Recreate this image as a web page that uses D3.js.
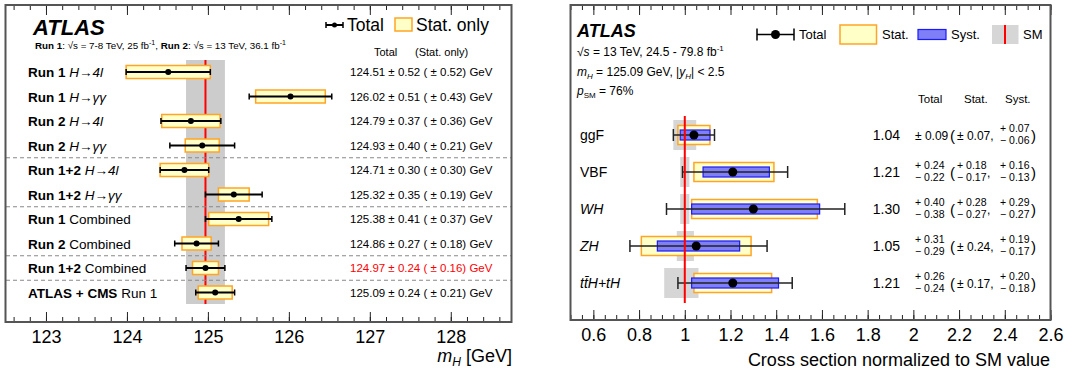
<!DOCTYPE html>
<html>
<head>
<meta charset="utf-8">
<title>Higgs mass and cross sections</title>
<script src="https://cdnjs.cloudflare.com/ajax/libs/d3/7.8.5/d3.min.js"></script>
<style>
  body { margin: 0; background: #fff; }
  svg text { font-family: "Liberation Sans", Arial, Helvetica, sans-serif; fill: #000; }
</style>
</head>
<body>
<script>
// ---- left panel data: Higgs mass measurements
var massBold = ['Run 1', 'Run 1', 'Run 2', 'Run 2', 'Run 1+2', 'Run 1+2', 'Run 1', 'Run 2', 'Run 1+2', 'ATLAS + CMS'];
var massRest = ['H\u2192' + '4l', 'H\u2192\u03b3\u03b3', 'H\u2192' + '4l', 'H\u2192\u03b3\u03b3', 'H\u2192' + '4l', 'H\u2192\u03b3\u03b3', 'Combined', 'Combined', 'Combined', 'Run 1'];
var massItalic = [true, true, true, true, true, true, false, false, false, false];
var massValues = [124.51, 126.02, 124.79, 124.93, 124.71, 125.32, 125.38, 124.86, 124.97, 125.09];
var massTotal = [0.52, 0.51, 0.37, 0.40, 0.30, 0.35, 0.41, 0.27, 0.24, 0.24];
var massStat = [0.52, 0.43, 0.36, 0.21, 0.30, 0.19, 0.37, 0.18, 0.16, 0.21];
var massSeparators = [3, 5, 7, 8]; // dashed line after these rows
var massTicks = [123, 124, 125, 126, 127, 128];
var refMass = 124.97, refMassErr = 0.24;

// ---- right panel data: production cross sections / SM
var procs = ['ggF', 'VBF', 'WH', 'ZH', 'ttH'];
var procItalic = [false, false, true, true, true];
var mu = [1.04, 1.21, 1.30, 1.05, 1.21];
var totUp = [0.09, 0.24, 0.40, 0.31, 0.26], totDn = [0.09, 0.22, 0.38, 0.29, 0.24];
var statUp = [0.07, 0.18, 0.28, 0.24, 0.17], statDn = [0.07, 0.17, 0.27, 0.24, 0.17];
var systUp = [0.07, 0.16, 0.29, 0.19, 0.20], systDn = [0.06, 0.13, 0.27, 0.17, 0.18];
var smUp = [0.05, 0.02, 0.02, 0.04, 0.06], smDn = [0.05, 0.02, 0.02, 0.035, 0.09];
var muTicks = [0.6, 0.8, 1, 1.2, 1.4, 1.6, 1.8, 2, 2.2, 2.4, 2.6];

var YEL = '#ffffc8', ORA = '#ffa526', BLUE = '#7f7ff8', BLUED = '#1a1aff', GREY = '#cccccc', FRAME = '#555';

var svg = d3.select('body').append('svg').attr('width', 1088).attr('height', 373);

function frameAxes(x, top, bottom, majors, minors, fmt) {
  var l = x.range()[0], r = x.range()[1];
  svg.append('g').attr('transform', 'translate(0,' + bottom + ')')
    .call(d3.axisBottom(x).tickValues(minors).tickSize(-5).tickFormat(''))
    .call(function (g) { g.select('.domain').remove(); g.selectAll('line').attr('stroke', '#222'); });
  svg.append('g').attr('transform', 'translate(0,' + top + ')')
    .call(d3.axisTop(x).tickValues(minors).tickSize(-5).tickFormat(''))
    .call(function (g) { g.select('.domain').remove(); g.selectAll('line').attr('stroke', '#222'); });
  svg.append('g').attr('transform', 'translate(0,' + top + ')')
    .call(d3.axisTop(x).tickValues(majors).tickSize(-10).tickFormat(''))
    .call(function (g) { g.select('.domain').remove(); g.selectAll('line').attr('stroke', '#222'); });
  svg.append('g').attr('transform', 'translate(0,' + bottom + ')')
    .call(d3.axisBottom(x).tickValues(majors).tickSize(-10).tickPadding(7).tickFormat(fmt))
    .call(function (g) {
      g.select('.domain').remove();
      g.selectAll('line').attr('stroke', '#222');
      g.selectAll('text').attr('font-size', 18).attr('dy', '0.78em')
        .style('font-family', '"Liberation Sans", Arial, sans-serif');
    });
  svg.append('rect').attr('x', l).attr('y', top).attr('width', r - l).attr('height', bottom - top)
    .attr('fill', 'none').attr('stroke', FRAME).attr('stroke-width', 2);
}

function minorList(lo, hi, step) {
  var out = [];
  for (var k = Math.ceil(lo / step - 1e-6); k * step <= hi + 1e-6; k++) out.push(+(k * step).toFixed(4));
  return out;
}

// ================= LEFT PANEL =================
var xL = d3.scaleLinear().domain([122.5, 128.75]).range([5.5, 511.5]);
var yL = d3.scalePoint().domain(d3.range(massValues.length)).range([72, 292.5]);
var stepL = yL.step();

svg.append('rect').attr('x', xL(refMass - refMassErr)).attr('y', 60)
  .attr('width', xL(refMass + refMassErr) - xL(refMass - refMassErr)).attr('height', 244).attr('fill', GREY);
svg.append('line').attr('x1', xL(refMass)).attr('x2', xL(refMass)).attr('y1', 60).attr('y2', 304)
  .attr('stroke', '#ff0000').attr('stroke-width', 2);

svg.selectAll('.sep').data(massSeparators).enter().append('line')
  .attr('x1', 6).attr('x2', 511)
  .attr('y1', function (d) { return yL(d) + stepL / 2; })
  .attr('y2', function (d) { return yL(d) + stepL / 2; })
  .attr('stroke', '#888').attr('stroke-dasharray', '4,3');

var rowsL = svg.selectAll('.rowL').data(massValues).enter().append('g');
rowsL.append('rect')
  .attr('x', function (d, i) { return xL(d - massStat[i]); })
  .attr('y', function (d, i) { return yL(i) - 6.5; })
  .attr('width', function (d, i) { return xL(d + massStat[i]) - xL(d - massStat[i]); })
  .attr('height', 13).attr('fill', YEL).attr('stroke', ORA).attr('stroke-width', 1.5);
rowsL.append('line')
  .attr('x1', function (d, i) { return xL(d - massTotal[i]); })
  .attr('x2', function (d, i) { return xL(d + massTotal[i]); })
  .attr('y1', function (d, i) { return yL(i); }).attr('y2', function (d, i) { return yL(i); })
  .attr('stroke', '#000').attr('stroke-width', 2);
[-1, 1].forEach(function (s) {
  rowsL.append('line')
    .attr('x1', function (d, i) { return xL(d + s * massTotal[i]); })
    .attr('x2', function (d, i) { return xL(d + s * massTotal[i]); })
    .attr('y1', function (d, i) { return yL(i) - 3; }).attr('y2', function (d, i) { return yL(i) + 3; })
    .attr('stroke', '#000').attr('stroke-width', 1.5);
});
rowsL.append('circle').attr('cx', function (d) { return xL(d); }).attr('cy', function (d, i) { return yL(i); })
  .attr('r', 3).attr('fill', '#000');

var labL = rowsL.append('text').attr('x', 28).attr('y', function (d, i) { return yL(i) + 5; }).attr('font-size', 13.5);
labL.append('tspan').attr('font-weight', 'bold').text(function (d, i) { return massBold[i]; });
labL.append('tspan').attr('font-style', function (d, i) { return massItalic[i] ? 'italic' : 'normal'; })
  .text(function (d, i) { return ' ' + massRest[i]; });

rowsL.append('text').attr('x', 350).attr('y', function (d, i) { return yL(i) + 4; }).attr('font-size', 11.5)
  .style('fill', function (d, i) { return i === 8 ? '#ff0000' : '#000'; })
  .text(function (d, i) {
    return d.toFixed(2) + ' \u00b1 ' + massTotal[i].toFixed(2) + ' ( \u00b1 ' + massStat[i].toFixed(2) + ') GeV';
  });

svg.append('text').attr('x', 374).attr('y', 56).attr('font-size', 11).text('Total');
svg.append('text').attr('x', 415).attr('y', 56).attr('font-size', 11).text('(Stat. only)');

frameAxes(xL, 5, 322, massTicks, minorList(122.5, 128.75, 0.2), d3.format('d'));
svg.append('text').attr('x', 512).attr('y', 362).attr('text-anchor', 'end').attr('font-size', 18)
  .html('<tspan font-style="italic">m</tspan><tspan font-style="italic" font-size="12" dy="4">H</tspan><tspan dy="-4"> [GeV]</tspan>');

svg.append('text').attr('x', 33).attr('y', 35).attr('font-size', 22).attr('font-weight', 'bold')
  .attr('font-style', 'italic').text('ATLAS');
svg.append('text').attr('x', 35).attr('y', 49).attr('font-size', 9.8)
  .html('<tspan font-weight="bold">Run 1</tspan>: \u221As = 7-8 TeV, 25 fb<tspan dy="-4" font-size="7">-1</tspan><tspan dy="4">, </tspan><tspan font-weight="bold">Run 2</tspan>: \u221As = 13 TeV, 36.1 fb<tspan dy="-4" font-size="7">-1</tspan>');

// legend left
svg.append('line').attr('x1', 326).attr('x2', 343).attr('y1', 25).attr('y2', 25).attr('stroke', '#000').attr('stroke-width', 2);
svg.append('line').attr('x1', 326).attr('x2', 326).attr('y1', 22).attr('y2', 28).attr('stroke', '#000').attr('stroke-width', 1.5);
svg.append('line').attr('x1', 343).attr('x2', 343).attr('y1', 22).attr('y2', 28).attr('stroke', '#000').attr('stroke-width', 1.5);
svg.append('circle').attr('cx', 334.5).attr('cy', 25).attr('r', 2.5).attr('fill', '#000');
svg.append('text').attr('x', 347).attr('y', 31).attr('font-size', 17.5).text('Total');
svg.append('rect').attr('x', 395).attr('y', 18).attr('width', 17).attr('height', 13).attr('fill', YEL).attr('stroke', ORA).attr('stroke-width', 1.5);
svg.append('text').attr('x', 416).attr('y', 31).attr('font-size', 17.5).text('Stat. only');

// ================= RIGHT PANEL =================
var xR = d3.scaleLinear().domain([0.5, 2.6]).range([570.5, 1050.5]);
var yR = d3.scalePoint().domain(procs).range([135, 283]);

var rowsR = svg.selectAll('.rowR').data(procs).enter().append('g');
rowsR.append('rect')
  .attr('x', function (d, i) { return xR(1 - smDn[i]); })
  .attr('y', function (d) { return yR(d) - 15; })
  .attr('width', function (d, i) { return xR(1 + smUp[i]) - xR(1 - smDn[i]); })
  .attr('height', 30).attr('fill', '#d6d6d6');
svg.append('line').attr('x1', xR(1)).attr('x2', xR(1)).attr('y1', 116).attr('y2', 303)
  .attr('stroke', '#ff0000').attr('stroke-width', 2);

rowsR.append('rect')
  .attr('x', function (d, i) { return xR(mu[i] - statDn[i]); })
  .attr('y', function (d) { return yR(d) - 9.5; })
  .attr('width', function (d, i) { return xR(mu[i] + statUp[i]) - xR(mu[i] - statDn[i]); })
  .attr('height', 19).attr('fill', YEL).attr('stroke', ORA).attr('stroke-width', 1.5);
rowsR.append('rect')
  .attr('x', function (d, i) { return xR(mu[i] - systDn[i]); })
  .attr('y', function (d) { return yR(d) - 5; })
  .attr('width', function (d, i) { return xR(mu[i] + systUp[i]) - xR(mu[i] - systDn[i]); })
  .attr('height', 10).attr('fill', BLUE).attr('stroke', BLUED).attr('stroke-width', 1.2);
rowsR.append('line')
  .attr('x1', function (d, i) { return xR(mu[i] - totDn[i]); })
  .attr('x2', function (d, i) { return xR(mu[i] + totUp[i]); })
  .attr('y1', function (d) { return yR(d); }).attr('y2', function (d) { return yR(d); })
  .attr('stroke', '#222').attr('stroke-width', 1.5);
rowsR.append('line')
  .attr('x1', function (d, i) { return xR(mu[i] - totDn[i]); })
  .attr('x2', function (d, i) { return xR(mu[i] - totDn[i]); })
  .attr('y1', function (d) { return yR(d) - 6; }).attr('y2', function (d) { return yR(d) + 6; })
  .attr('stroke', '#222').attr('stroke-width', 1.5);
rowsR.append('line')
  .attr('x1', function (d, i) { return xR(mu[i] + totUp[i]); })
  .attr('x2', function (d, i) { return xR(mu[i] + totUp[i]); })
  .attr('y1', function (d) { return yR(d) - 6; }).attr('y2', function (d) { return yR(d) + 6; })
  .attr('stroke', '#222').attr('stroke-width', 1.5);
rowsR.append('circle').attr('cx', function (d, i) { return xR(mu[i]); }).attr('cy', function (d) { return yR(d); })
  .attr('r', 4.5).attr('fill', '#000');

rowsR.append('text').attr('x', 580).attr('y', function (d) { return yR(d) + 5; }).attr('font-size', 14)
  .attr('font-style', function (d, i) { return procItalic[i] ? 'italic' : 'normal'; })
  .text(function (d) { return d === 'ttH' ? 't t\u0304H+tH'.replace(' ', '') : d; });

rowsR.append('text').attr('x', 900).attr('y', function (d) { return yR(d) + 5; }).attr('font-size', 14)
  .attr('text-anchor', 'end').text(function (d, i) { return mu[i].toFixed(2); });

function errCell(g, x, up, dn, y, comma) {
  if (up === dn) {
    g.append('text').attr('x', x).attr('y', y + 4.5).attr('font-size', 12)
      .text('\u00b1 ' + up.toFixed(2) + (comma ? ',' : ''));
  } else {
    g.append('text').attr('x', x).attr('y', y - 3.5).attr('font-size', 10.5).text('+ ' + up.toFixed(2));
    g.append('text').attr('x', x).attr('y', y + 9).attr('font-size', 10.5).text('\u2212 ' + dn.toFixed(2));
    if (comma) g.append('text').attr('x', x + 30).attr('y', y + 5).attr('font-size', 12).text(',');
  }
}
rowsR.each(function (d, i) {
  var g = d3.select(this), y = yR(d);
  errCell(g, 915, totUp[i], totDn[i], y, false);
  g.append('text').attr('x', 950).attr('y', y + 5.5).attr('font-size', 15).text('(');
  errCell(g, 957, statUp[i], statDn[i], y, true);
  errCell(g, 1000, systUp[i], systDn[i], y, false);
  g.append('text').attr('x', 1031).attr('y', y + 5.5).attr('font-size', 15).text(')');
});

svg.append('text').attr('x', 918).attr('y', 103).attr('font-size', 11.5).text('Total');
svg.append('text').attr('x', 964).attr('y', 103).attr('font-size', 11.5).text('Stat.');
svg.append('text').attr('x', 1005).attr('y', 103).attr('font-size', 11.5).text('Syst.');

frameAxes(xR, 5, 320, muTicks, minorList(0.5, 2.6, 0.05), function (v) { return d3.format('')(+v.toFixed(1)); });
svg.append('text').attr('x', 1050).attr('y', 366).attr('text-anchor', 'end').attr('font-size', 18)
  .text('Cross section normalized to SM value');

svg.append('text').attr('x', 577).attr('y', 37).attr('font-size', 18).attr('font-weight', 'bold')
  .attr('font-style', 'italic').text('ATLAS');
svg.append('text').attr('x', 577).attr('y', 56).attr('font-size', 12)
  .html('\u221A<tspan font-style="italic">s</tspan> = 13 TeV, 24.5 - 79.8 fb<tspan dy="-5" font-size="8">-1</tspan>');
svg.append('text').attr('x', 577).attr('y', 76).attr('font-size', 12)
  .html('<tspan font-style="italic">m</tspan><tspan font-style="italic" font-size="8" dy="3">H</tspan><tspan dy="-3"> = 125.09 GeV, |</tspan><tspan font-style="italic">y</tspan><tspan font-style="italic" font-size="8" dy="3">H</tspan><tspan dy="-3">| &lt; 2.5</tspan>');
svg.append('text').attr('x', 577).attr('y', 95).attr('font-size', 12)
  .html('<tspan font-style="italic">p</tspan><tspan font-size="8" dy="3">SM</tspan><tspan dy="-3"> = 76%</tspan>');

// legend right
svg.append('line').attr('x1', 757).attr('x2', 794).attr('y1', 34.5).attr('y2', 34.5).attr('stroke', '#000').attr('stroke-width', 1.5);
svg.append('line').attr('x1', 757).attr('x2', 757).attr('y1', 28.5).attr('y2', 40.5).attr('stroke', '#000').attr('stroke-width', 1.5);
svg.append('line').attr('x1', 794).attr('x2', 794).attr('y1', 28.5).attr('y2', 40.5).attr('stroke', '#000').attr('stroke-width', 1.5);
svg.append('circle').attr('cx', 775.5).attr('cy', 34.5).attr('r', 4.5).attr('fill', '#000');
svg.append('text').attr('x', 799).attr('y', 39).attr('font-size', 13).text('Total');
svg.append('rect').attr('x', 840).attr('y', 25).attr('width', 36.5).attr('height', 19).attr('fill', YEL).attr('stroke', ORA).attr('stroke-width', 1.5);
svg.append('text').attr('x', 882).attr('y', 39).attr('font-size', 13).text('Stat.');
svg.append('rect').attr('x', 918).attr('y', 29.5).attr('width', 28).attr('height', 10).attr('fill', BLUE).attr('stroke', BLUED).attr('stroke-width', 1.2);
svg.append('text').attr('x', 951).attr('y', 39).attr('font-size', 13).text('Syst.');
svg.append('rect').attr('x', 992).attr('y', 25).attr('width', 26.5).attr('height', 19).attr('fill', '#d6d6d6');
svg.append('line').attr('x1', 1005).attr('x2', 1005).attr('y1', 25).attr('y2', 44).attr('stroke', '#ff0000').attr('stroke-width', 2);
svg.append('text').attr('x', 1023).attr('y', 39).attr('font-size', 13).text('SM');
</script>
</body>
</html>
